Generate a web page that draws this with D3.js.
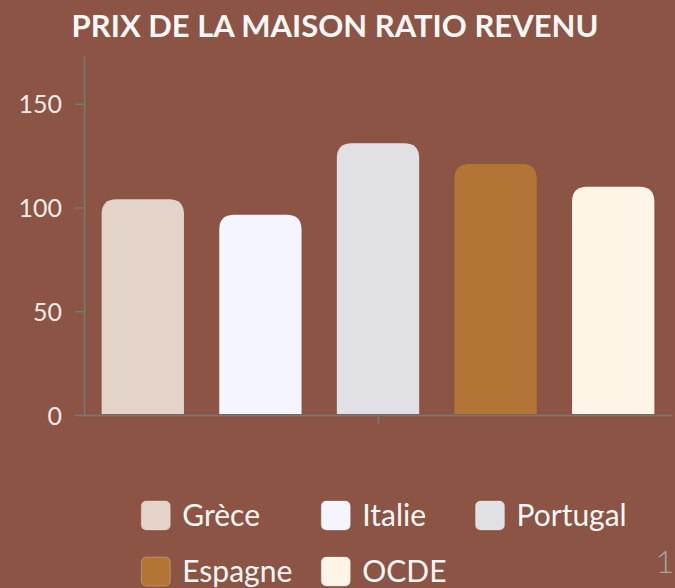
<!DOCTYPE html>
<html lang="fr">
<head>
<meta charset="UTF-8">
<title>Prix de la maison ratio revenu</title>
<script src="https://d3js.org/d3.v7.min.js"></script>
<style>
  html, body { margin: 0; padding: 0; background: #8b5444; }
  svg { display: block; font-family: Lato, "Open Sans", sans-serif; }
</style>
</head>
<body>
<div id="chart"></div>
<script>
// data
const series = ["Grèce", "Italie", "Portugal", "Espagne", "OCDE"];
const values = [104, 96.5, 131, 121, 110];
const colors = ["#e3d3c9", "#f5f5ff", "#e1e1e5", "#b37535", "#fef5e6"];
const yTicks = [0, 50, 100, 150];
const title = "PRIX DE LA MAISON RATIO REVENU";

const width = 675, height = 588;
const margin = {top: 56, right: 3, bottom: 173, left: 84};

const svg = d3.select("#chart").append("svg")
  .attr("width", width)
  .attr("height", height);

svg.append("rect").attr("width", width).attr("height", height).attr("fill", "#8b5444");

svg.append("text")
  .attr("x", 335)
  .attr("y", 37)
  .attr("text-anchor", "middle")
  .attr("fill", "#fbf7f7")
  .style("font-size", "31px")
  .style("font-weight", "700")
  .text(title);

const y = d3.scaleLinear().domain([0, 173]).range([height - margin.bottom, margin.top]);
const x = d3.scaleBand().domain(series)
  .range([margin.left, width - margin.right])
  .paddingInner(0.3).paddingOuter(0.15);

// y axis
const yAxis = svg.append("g")
  .attr("transform", `translate(${margin.left},0)`)
  .call(d3.axisLeft(y).tickValues(yTicks).tickSize(9).tickPadding(13).tickSizeOuter(0));
yAxis.select(".domain").attr("stroke", "#777a7a").attr("stroke-width", 1.5);
yAxis.selectAll(".tick line").attr("stroke", "#777a7a").attr("stroke-width", 1.5);
yAxis.selectAll(".tick text").attr("fill", "#f3ece9").style("font-size", "25px")
  .style("font-family", "Lato, sans-serif").attr("dy", "0.36em");

// x axis with a single centred tick
const x0 = d3.scalePoint().domain([""]).range([margin.left, width - margin.right]).padding(0.5);
const xAxis = svg.append("g")
  .attr("transform", `translate(0,${y(0)})`)
  .call(d3.axisBottom(x0).tickSize(9).tickSizeOuter(0));
xAxis.select(".domain").attr("stroke", "#777a7a").attr("stroke-width", 1.5);
xAxis.selectAll(".tick line").attr("stroke", "#777a7a").attr("stroke-width", 1.5);

// bars, rounded on top only
const r = 15;
function barPath(d) {
  const x1 = x(d.s), w = x.bandwidth(), top = y(d.v), bot = y(0) - 1;
  return `M${x1},${bot}V${top + r}Q${x1},${top} ${x1 + r},${top}H${x1 + w - r}` +
    `Q${x1 + w},${top} ${x1 + w},${top + r}V${bot}Z`;
}
svg.append("g").selectAll("path")
  .data(series.map((s, i) => ({s: s, v: values[i], c: colors[i]})))
  .join("path")
  .attr("d", barPath)
  .attr("fill", d => d.c);

// legend, 3 columns
const legend = svg.append("g").style("font-size", "30px");
const cols = 3, box = 29, gapText = 12, colGap = 29, rowH = 56;
const items = legend.selectAll("g").data(series).join("g");
items.append("rect")
  .attr("width", box).attr("height", box).attr("rx", 5)
  .attr("fill", (d, i) => colors[i])
  .attr("stroke", "rgba(255,255,255,0.25)");
items.append("text")
  .attr("x", box + gapText).attr("y", box - 4)
  .attr("fill", "#fbf7f7")
  .text(d => d);
const widths = [];
items.each(function(d, i) {
  const w = box + gapText + d3.select(this).select("text").node().getComputedTextLength();
  const c = i % cols;
  widths[c] = Math.max(widths[c] || 0, w);
});
const offs = [0];
for (let c = 1; c < cols; c++) offs[c] = offs[c - 1] + widths[c - 1] + colGap;
const total = offs[cols - 1] + widths[cols - 1];
const lx = 384 - total / 2;
items.attr("transform", (d, i) => `translate(${lx + offs[i % cols]},${501 + Math.floor(i / cols) * rowH})`);

// page number at the right edge
svg.append("text")
  .attr("x", 674).attr("y", 573)
  .attr("text-anchor", "end")
  .attr("fill", "#a3a3a3")
  .style("font-size", "32px")
  .style("font-weight", "300")
  .text("1");
</script>
</body>
</html>
